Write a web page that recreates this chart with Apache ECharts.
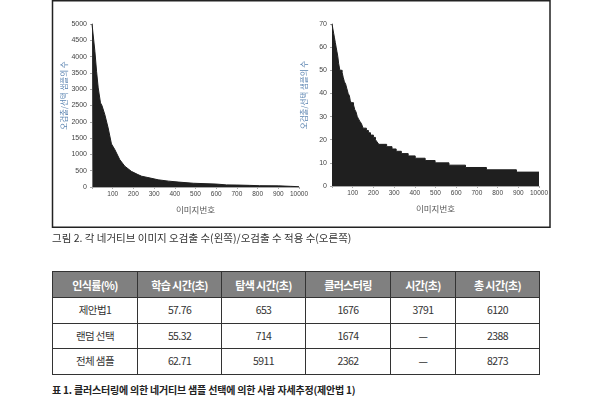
<!DOCTYPE html>
<html>
<head>
<meta charset="utf-8">
<script src="https://cdn.jsdelivr.net/npm/echarts@6/dist/echarts.min.js"></script>
<style>
body{margin:0;background:#fff;width:600px;height:399px;overflow:hidden;position:relative;font-family:"Noto Sans CJK KR",sans-serif;}
#chart{position:absolute;left:0;top:0;width:600px;height:262px;}
#tbl{position:absolute;left:52px;top:271px;border-collapse:collapse;table-layout:fixed;width:481px;}
#tbl td,#tbl th{border:1px solid #333;padding:0;text-align:center;font-size:10.5px;color:#333;font-weight:normal;letter-spacing:-0.6px;line-height:12px;}
#tbl th{background:#808080;color:#fff;font-weight:bold;font-size:11px;}
#cap2{position:absolute;left:52px;top:382px;font-size:10px;font-weight:bold;color:#222;letter-spacing:-0.2px;white-space:nowrap;}
</style>
</head>
<body>
<div id="chart"></div>
<table id="tbl"></table>
<div id="cap2">표 1. 클러스터링에 의한 네거티브 샘플 선택에 의한 사람 자세추정(제안법 1)</div>
<script>
// 왼쪽: 이미지별 오검출 수
var imgIdx = [0, 3, 14, 22, 30, 41, 48, 56, 62, 78, 94, 110, 134, 158, 190, 222, 240, 270, 320, 370, 420, 490, 600, 650, 700, 760, 810, 900, 960, 1000];
var falseCounts = [5000, 4980, 4160, 3550, 3040, 2580, 2500, 2480, 2220, 1810, 1320, 1150, 840, 640, 480, 380, 330, 290, 220, 180, 150, 115, 90, 65, 60, 50, 40, 35, 20, 10];

// 오른쪽: 오검출 적용 수 (계단)
var stepIdx = [0, 4, 8, 12, 16, 20, 24, 28, 32, 36, 38, 49, 54, 60, 66, 72, 78, 84, 88, 92, 104, 110, 116, 122, 128, 134, 142, 150, 166, 176, 186, 200, 210, 218, 226, 264, 290, 310, 335, 368, 402, 450, 498, 565, 645, 746, 891, 1000];
var usedCounts = [70, 68, 66, 64, 62, 60, 58, 56, 53, 51, 50, 49, 47, 45, 44, 42, 40, 39, 37, 36, 35, 33, 32, 30, 29, 28, 27, 25, 24, 23, 22, 21, 20, 19, 18, 17, 16, 15, 14, 13, 12, 11, 10, 9, 8, 7, 6, 6];

var tblHead = ['인식률(%)', '학습 시간(초)', '탐색 시간(초)', '클러스터링', '시간(초)', '총 시간(초)'];
var methods = ['제안법1', '랜덤 선택', '전체 샘플'];
var trainTime = ['57.76', '55.32', '62.71'];
var searchTime = ['653', '714', '5911'];
var clusterTime = ['1676', '1674', '2362'];
var extraTime = ['3791', '—', '—'];
var totalTime = ['6120', '2388', '8273'];

var fill = '#1f1f1f';
var frame = '#a8a8a8';
var lblFont = 'Liberation Sans, Arial, sans-serif';

function pairs(xs, ys) {
    var res = [];
    for (var i = 0; i < xs.length; i++) res.push([xs[i], ys[i]]);
    return res;
}

function bottomAxis(grid) {
    return {
        type: 'value', gridIndex: grid, min: 0, max: 1000, interval: 100,
        name: '이미지번호', nameLocation: 'middle', nameGap: 19,
        nameTextStyle: { fontSize: 8.5, color: '#555', fontFamily: 'Noto Sans CJK KR' },
        axisLine: { show: true, lineStyle: { color: frame } },
        axisTick: { show: false },
        splitLine: { show: false },
        axisLabel: {
            fontSize: 6.5, color: '#444', margin: 4, fontFamily: lblFont,
            formatter: function (v) { return v === 0 ? '' : (v === 1000 ? '10000' : String(v)); }
        }
    };
}
function topAxis(grid) {
    return {
        type: 'value', gridIndex: grid, position: 'top', min: 0, max: 1000, interval: 100,
        axisLine: { show: true, lineStyle: { color: frame } },
        axisTick: { show: true, inside: true, length: 2, lineStyle: { color: frame } },
        axisLabel: { show: false }, splitLine: { show: false }
    };
}
function leftAxis(grid, max, step) {
    return {
        type: 'value', gridIndex: grid, min: 0, max: max, interval: step,
        name: '오검출/선택 샘플의 수', nameLocation: 'middle', nameGap: 24, nameRotate: 90,
        nameTextStyle: { fontSize: 7.5, color: '#5b84b1', fontFamily: 'Noto Sans CJK KR', padding: [0, 0, 0, 20] },
        axisLine: { show: true, lineStyle: { color: frame } },
        axisTick: { show: false }, splitLine: { show: false },
        axisLabel: { fontSize: 7, color: '#444', margin: 5, fontFamily: lblFont,
            formatter: function (v) { return String(v); } }
    };
}
function rightAxis(grid, max, step) {
    return {
        type: 'value', gridIndex: grid, position: 'right', min: 0, max: max, interval: step,
        axisLine: { show: true, lineStyle: { color: frame } },
        axisTick: { show: true, inside: true, length: 2, lineStyle: { color: frame } },
        axisLabel: { show: false }, splitLine: { show: false }
    };
}

var chart = echarts.init(document.getElementById('chart'));
var option = {
    animation: false,
    grid: [
        { left: 92, top: 24, width: 207, height: 163 },
        { left: 332, top: 24, width: 207, height: 162 }
    ],
    xAxis: [bottomAxis(0), topAxis(0), bottomAxis(1), topAxis(1)],
    yAxis: [leftAxis(0, 5000, 500), rightAxis(0, 5000, 500), leftAxis(1, 70, 10), rightAxis(1, 70, 10)],
    graphic: [
        { type: 'rect', shape: { x: 52.5, y: 0.75, width: 497.5, height: 226.5 },
          style: { fill: 'none', stroke: '#222', lineWidth: 1.5 }, z: 10 },
        { type: 'text', left: 52, top: 233,
          style: { text: '그림 2. 각 네거티브 이미지 오검출 수(왼쪽)/오검출 수 적용 수(오른쪽)',
                   fontSize: 10.5, fill: '#333', fontFamily: 'Noto Sans CJK KR' } }
    ],
    series: [
        {
            type: 'line', xAxisIndex: 0, yAxisIndex: 0, data: pairs(imgIdx, falseCounts),
            showSymbol: false, lineStyle: { color: fill, width: 1 },
            areaStyle: { color: fill, opacity: 1 }
        },
        {
            type: 'line', xAxisIndex: 2, yAxisIndex: 2, data: pairs(stepIdx, usedCounts),
            step: 'end', showSymbol: false, lineStyle: { color: fill, width: 1 },
            areaStyle: { color: fill, opacity: 1 }
        }
    ]
};
chart.setOption(option);

// 표 1
var tbl = document.getElementById('tbl');
var html = '<tr style="height:26px">';
var widths = [84, 83, 83, 84, 64, 83];
for (var i = 0; i < tblHead.length; i++) {
    html += '<th style="width:' + widths[i] + 'px">' + tblHead[i] + '</th>';
}
html += '</tr>';
for (var r = 0; r < methods.length; r++) {
    html += '<tr style="height:25.5px"><td>' + methods[r] + '</td><td>' + trainTime[r] + '</td><td>' + searchTime[r] +
        '</td><td>' + clusterTime[r] + '</td><td>' + extraTime[r] + '</td><td>' + totalTime[r] + '</td></tr>';
}
tbl.innerHTML = html;
</script>
</body>
</html>
